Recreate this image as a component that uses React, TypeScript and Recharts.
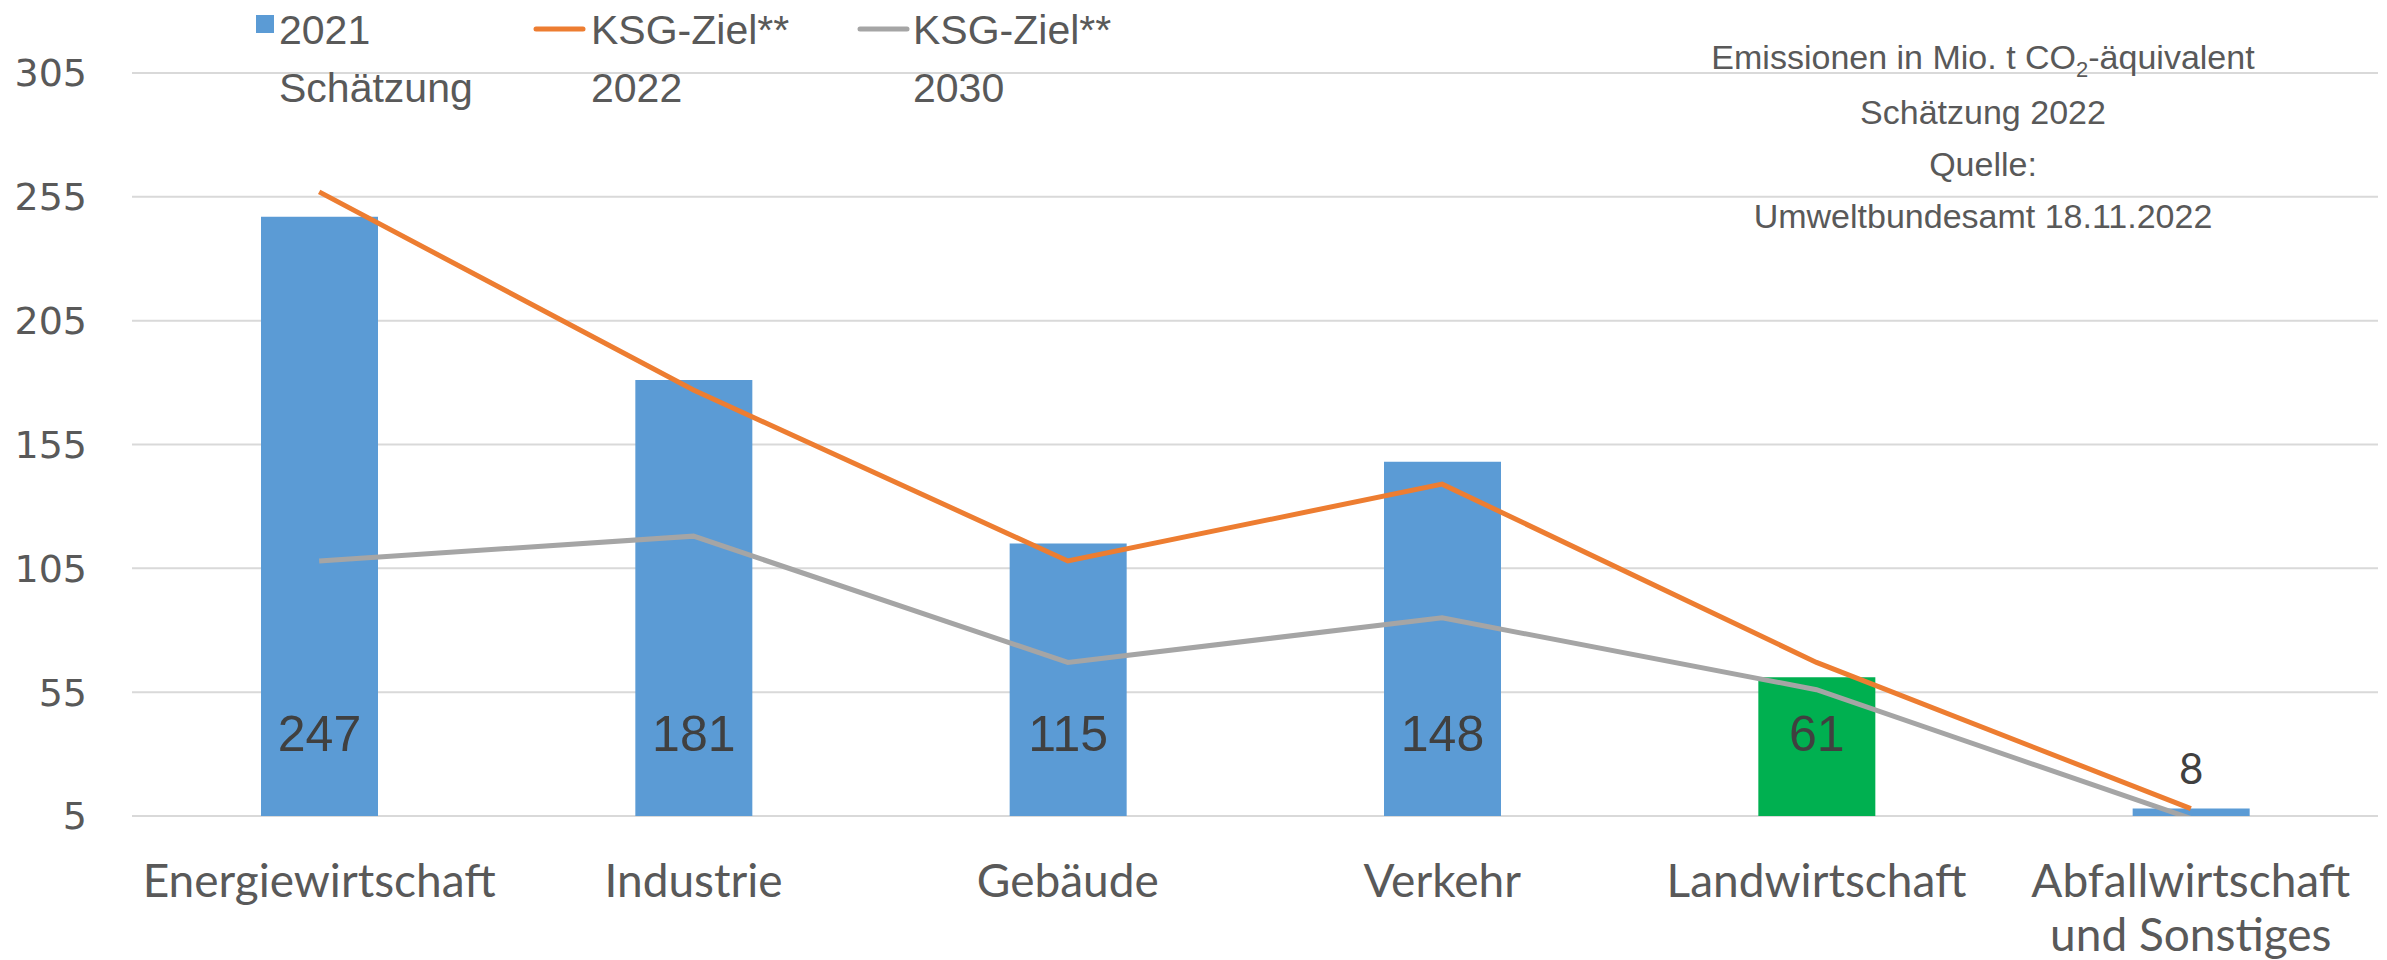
import React from "react";
import {
  ComposedChart,
  Bar,
  Line,
  XAxis,
  YAxis,
  CartesianGrid,
  Cell,
  LabelList,
  Customized,
} from "recharts";

const categories = [
  "Energiewirtschaft",
  "Industrie",
  "Gebäude",
  "Verkehr",
  "Landwirtschaft",
  "Abfallwirtschaft\nund Sonstiges",
];
const estimate2021 = [247, 181, 115, 148, 61, 8];
const ksgTarget2022 = [257, 177, 108, 139, 67, 8];
const ksgTarget2030 = [108, 118, 67, 85, 56, 4];
const yTicks = [5, 55, 105, 155, 205, 255, 305];
const noteLines = ["Schätzung 2022", "Quelle:", "Umweltbundesamt  18.11.2022"];

const BLUE = "#5B9BD5";
const GREEN = "#00B050";
const ORANGE = "#ED7D31";
const GRAY = "#A5A5A5";
const TEXT = "#595959";
const NARROW = "'Liberation Sans Narrow', 'Liberation Sans', sans-serif";

const data = categories.map((name, i) => ({
  name,
  est: estimate2021[i],
  k22: ksgTarget2022[i],
  k30: ksgTarget2030[i],
}));

function CategoryTick(props: any) {
  const { x, y, payload } = props;
  const lines = String(payload.value).split("\n");
  return (
    <text
      x={x}
      y={y}
      textAnchor="middle"
      fill={TEXT}
      fontFamily="Lato, sans-serif"
      fontSize={46}
    >
      {lines.map((l, i) => (
        <tspan key={i} x={x} dy={i === 0 ? 73 : 54}>
          {l}
        </tspan>
      ))}
    </text>
  );
}

function BarValue(props: any) {
  const { x, y, width, height, value } = props;
  const cx = x + width / 2;
  if (height < 40) {
    return (
      <text
        x={cx}
        y={y - 41}
        textAnchor="middle"
        dominantBaseline="central"
        fill="#404040"
        fontFamily="Lato, sans-serif"
        fontSize={42}
      >
        {value}
      </text>
    );
  }
  return (
    <text
      x={cx}
      y={y + height - 82}
      textAnchor="middle"
      dominantBaseline="central"
      fill="#404040"
      fontFamily={NARROW}
      fontSize={50}
    >
      {value}
    </text>
  );
}

function Overlay() {
  const legendFont = { fontFamily: NARROW, fontSize: 41, fill: TEXT };
  return (
    <g>
      <rect x={256} y={15} width={18} height={18} fill={BLUE} />
      <text x={279} y={44} {...legendFont}>
        <tspan x={279}>2021</tspan>
        <tspan x={279} dy={58}>Schätzung</tspan>
      </text>
      <line x1={536} x2={583} y1={29} y2={29} stroke={ORANGE} strokeWidth={5} strokeLinecap="round" />
      <text x={591} y={44} {...legendFont}>
        <tspan x={591}>KSG-Ziel**</tspan>
        <tspan x={591} dy={58}>2022</tspan>
      </text>
      <line x1={860} x2={907} y1={29} y2={29} stroke={GRAY} strokeWidth={5} strokeLinecap="round" />
      <text x={913} y={44} {...legendFont}>
        <tspan x={913}>KSG-Ziel**</tspan>
        <tspan x={913} dy={58}>2030</tspan>
      </text>

      <text x={1983} y={69} textAnchor="middle" fontFamily={NARROW} fontSize={34} fill={TEXT}>
        Emissionen in Mio. t CO
        <tspan fontSize={22} dy={8}>2</tspan>
        <tspan dy={-8}>-äquivalent</tspan>
      </text>
      {noteLines.map((l, i) => (
        <text
          key={i}
          x={1983}
          y={124 + i * 52}
          textAnchor="middle"
          fontFamily={NARROW}
          fontSize={34}
          fill={TEXT}
        >
          {l}
        </text>
      ))}
    </g>
  );
}

export default function App() {
  return (
    <div style={{ position: "absolute", left: 0, top: 0, width: 2387, height: 960, background: "#fff" }}>
      <ComposedChart
        width={2387}
        height={960}
        data={data}
        margin={{ top: 73, right: 9, bottom: 0, left: 0 }}
      >
        <CartesianGrid vertical={false} stroke="#D9D9D9" strokeWidth={2} />
        <XAxis
          dataKey="name"
          axisLine={false}
          tickLine={false}
          height={144}
          interval={0}
          tick={<CategoryTick />}
        />
        <YAxis
          domain={[5, 305]}
          ticks={yTicks}
          allowDataOverflow
          axisLine={false}
          tickLine={false}
          tickSize={0}
          tickMargin={45}
          width={132}
          tick={{ fill: TEXT, fontSize: 38, fontFamily: "'DejaVu Sans', sans-serif" }}
        />
        <Bar dataKey="est" barSize={117} isAnimationActive={false}>
          {data.map((d, i) => (
            <Cell key={i} fill={d.name === "Landwirtschaft" ? GREEN : BLUE} />
          ))}
          <LabelList dataKey="est" content={<BarValue />} />
        </Bar>
        <Line
          dataKey="k22"
          stroke={ORANGE}
          strokeWidth={5}
          dot={false}
          type="linear"
          isAnimationActive={false}
        />
        <Line
          dataKey="k30"
          stroke={GRAY}
          strokeWidth={5}
          dot={false}
          type="linear"
          isAnimationActive={false}
        />
        <Customized component={Overlay} />
      </ComposedChart>
    </div>
  );
}
